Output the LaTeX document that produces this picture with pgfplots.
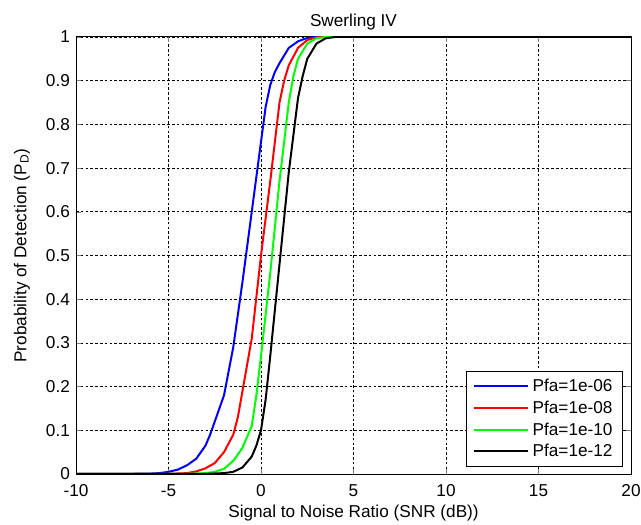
\documentclass[border=0pt]{standalone}
\usepackage{fontspec}
\setmainfont{Liberation Sans}
\usepackage{pgfplots}
\pgfplotsset{compat=1.18}
\definecolor{mblue}{rgb}{0,0,1}
\definecolor{mred}{rgb}{1,0,0}
\definecolor{mgreen}{rgb}{0,1,0}

\begin{document}
\begin{tikzpicture}
\fontsize{8.6}{10}\selectfont
\begin{axis}[
    scale only axis,
    width=277.5pt, height=218.5pt,
    xmin=-10, xmax=20, ymin=0, ymax=1,
    xtick={-10,-5,...,20},
    ytick={0,0.1,...,1},
    /pgf/number format/assume math mode=true,
    yticklabel style={/pgf/number format/fixed, /pgf/number format/precision=1},
    tick label style={font=\fontsize{8.6}{10}\selectfont},
    label style={font=\fontsize{8.6}{10}\selectfont},
    tick align=inside,
    major tick length=2.5pt,
    xticklabel style={anchor=center, yshift=-8.3pt},
    title={Swerling IV},
    every axis title/.style={at={(0.5,1)}, anchor=base, yshift=5.3pt,
                 font=\fontsize{8.6}{10}\selectfont},
    xlabel={Signal to Noise Ratio (SNR (dB))},
    ylabel={Probability of Detection (P\textsubscript{D})},
    xlabel style={at={(axis description cs:0.5,0)}, anchor=center, yshift=-19.3pt},
    ylabel style={at={(axis description cs:0,0.5)}, anchor=center, yshift=27pt},
    grid=major,
    grid style={black, line width=0.35pt, dash pattern=on 1.3pt off 1.1pt},
    axis line style={line width=0.5pt},
    legend style={at={(1,0)}, anchor=south east, xshift=-4pt, yshift=3.5pt,
                  draw=black, line width=0.5pt, font=\fontsize{8.6}{10}\selectfont,
                  row sep=-0.6pt, inner xsep=3pt, inner ysep=1.5pt},
    legend cell align=left,
    legend image code/.code={\draw[#1, line width=1pt] (0pt,0.25pt) -- (27pt,0.25pt);},
]
\addplot[mblue, line width=1pt] coordinates {
    (-10,0) (-7,0.0005) (-6,0.001) (-5.5,0.002) (-5,0.005) (-4.5,0.01)
    (-4,0.02) (-3.5,0.035) (-3,0.065) (-2.75,0.09) (-2.5,0.12) (-2.25,0.15)
    (-2,0.18) (-1.5,0.29) (-1,0.44) (-0.5,0.60) (0,0.76) (0.25,0.84)
    (0.5,0.89) (0.75,0.92) (1,0.94) (1.5,0.975) (2,0.99) (2.5,0.998)
    (3,1) (20,1)
};
\addlegendentry{Pfa=1e-06}
\addplot[mred, line width=1pt] coordinates {
    (-10,0) (-5,0.0005) (-4,0.002) (-3.5,0.006) (-3,0.013) (-2.5,0.025)
    (-2,0.05) (-1.5,0.09) (-1.25,0.13) (-1,0.19) (-0.5,0.31) (0,0.50)
    (0.5,0.67) (1,0.85) (1.25,0.9) (1.5,0.935) (2,0.975) (2.5,0.993)
    (3,0.999) (3.5,1) (20,1)
};
\addlegendentry{Pfa=1e-08}
\addplot[mgreen, line width=1pt] coordinates {
    (-10,0) (-4,0.0005) (-3,0.002) (-2.5,0.005) (-2,0.012) (-1.5,0.03)
    (-1,0.06) (-0.5,0.11) (-0.25,0.18) (0,0.27) (0.5,0.46) (1,0.67)
    (1.5,0.85) (1.75,0.91) (2,0.95) (2.5,0.985) (3,0.997) (3.5,1) (20,1)
};
\addlegendentry{Pfa=1e-10}
\addplot[black, line width=1pt] coordinates {
    (-10,0) (-3,0.0003) (-2,0.002) (-1.5,0.005) (-1,0.015) (-0.5,0.04)
    (-0.25,0.065) (0,0.10) (0.25,0.17) (0.5,0.27) (1,0.48) (1.5,0.69)
    (2,0.86) (2.25,0.91) (2.5,0.95) (3,0.985) (3.5,0.997) (4,1) (20,1)
};
\addlegendentry{Pfa=1e-12}
\coordinate (sw) at (rel axis cs:0,0);
\coordinate (ne) at (rel axis cs:1,1);
\end{axis}
\pgfresetboundingbox
\path[use as bounding box] ([xshift=-38pt,yshift=-25pt]sw) rectangle ([xshift=5pt,yshift=18.5pt]ne);
\end{tikzpicture}
\end{document}
